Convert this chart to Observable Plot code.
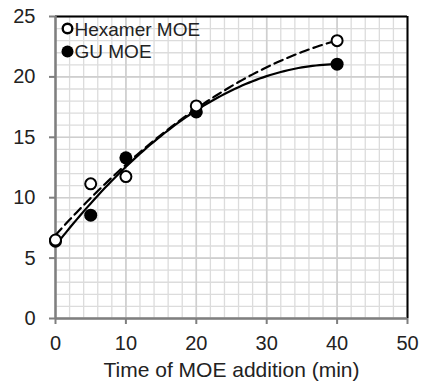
<!DOCTYPE html>
<html><head><meta charset="utf-8">
<script src="https://cdn.jsdelivr.net/npm/d3@7"></script>
<script src="https://cdn.jsdelivr.net/npm/@observablehq/plot@0.6"></script>
<style>body{margin:0;background:#fff;} #chart{font-family:"Liberation Sans",Arial,sans-serif;}</style>
</head><body><div id="chart"></div>
<script>
const times = [0, 5, 10, 20, 40];
const hexamer = [6.5, 11.15, 11.75, 17.6, 23.0];
const gu = [6.4, 8.55, 13.3, 17.1, 21.05];
const xTicks = [0, 10, 20, 30, 40, 50];
const yTicks = [0, 5, 10, 15, 20, 25];
const seriesNames = ["Hexamer MOE", "GU MOE"];

// quadratic least-squares trendline (as in the spreadsheet's polynomial trendline)
function quadFit(xs, ys) {
  const S = k => d3.sum(xs, x => x ** k);
  const T = k => d3.sum(xs, (x, i) => x ** k * ys[i]);
  const A = [[S(0), S(1), S(2)], [S(1), S(2), S(3)], [S(2), S(3), S(4)]];
  const b = [T(0), T(1), T(2)];
  for (let i = 0; i < 3; i++) {
    for (let j = i + 1; j < 3; j++) {
      const f = A[j][i] / A[i][i];
      for (let k = i; k < 3; k++) A[j][k] -= f * A[i][k];
      b[j] -= f * b[i];
    }
  }
  const c = [0, 0, 0];
  for (let i = 2; i >= 0; i--) {
    let s = b[i];
    for (let k = i + 1; k < 3; k++) s -= A[i][k] * c[k];
    c[i] = s / A[i][i];
  }
  return x => c[0] + c[1] * x + c[2] * x * x;
}
const fh = quadFit(times, hexamer), fg = quadFit(times, gu);
const xs = d3.range(0, 40.001, 0.5);
const hexFit = xs.map(x => ({x, y: fh(x)}));
const guFit = xs.map(x => ({x, y: fg(x)}));
const hexPts = times.map((t, i) => ({x: t, y: hexamer[i]}));
const guPts = times.map((t, i) => ({x: t, y: gu[i]}));

const minorX = d3.range(0, 51, 2);
const minorY = d3.range(0, 26, 1);
const one = [{}];

const chart = Plot.plot({
  width: 423, height: 387,
  marginLeft: 55, marginRight: 16, marginTop: 16, marginBottom: 69,
  style: {fontFamily: '"Liberation Sans", Arial, sans-serif', background: "#fff"},
  x: {domain: [0, 50]},
  y: {domain: [0, 25]},
  marks: [
    Plot.ruleX(minorX, {stroke: "#dcdcdc", strokeWidth: 1.3}),
    Plot.ruleY(minorY, {stroke: "#dcdcdc", strokeWidth: 1.3}),
    Plot.ruleX(xTicks, {stroke: "#cfcfcf", strokeWidth: 1.6}),
    Plot.ruleY(yTicks, {stroke: "#cfcfcf", strokeWidth: 1.6}),
    Plot.ruleY([25], {stroke: "#000", strokeWidth: 2}),
    Plot.ruleX([50], {stroke: "#000", strokeWidth: 2}),
    Plot.ruleX([0], {stroke: "#7f7f7f", strokeWidth: 2.5}),
    Plot.ruleY([0], {stroke: "#7f7f7f", strokeWidth: 2.5}),
    Plot.axisX({ticks: xTicks, tickSize: 6, tickPadding: 11, fontSize: 20, stroke: "#7f7f7f", strokeWidth: 2, fill: "#222", label: "Time of MOE addition (min)", labelAnchor: "center", labelArrow: "none", labelOffset: 58}),
    Plot.axisY({ticks: yTicks, tickSize: 6, tickPadding: 14, fontSize: 20, stroke: "#7f7f7f", strokeWidth: 2, fill: "#222", label: null}),
    Plot.line(hexFit, {x: "x", y: "y", stroke: "#000", strokeWidth: 2.2, strokeDasharray: "9,5"}),
    Plot.line(guFit, {x: "x", y: "y", stroke: "#000", strokeWidth: 2.2}),
    Plot.dot(guPts, {x: "x", y: "y", r: 6.5, fill: "#000", stroke: "none"}),
    Plot.dot(hexPts, {x: "x", y: "y", r: 5.5, fill: "#fff", stroke: "#000", strokeWidth: 2}),
    // legend
    Plot.dot(one, {frameAnchor: "top-left", dx: 12, dy: 12, r: 4.8, fill: "#fff", stroke: "#000", strokeWidth: 2.4}),
    Plot.dot(one, {frameAnchor: "top-left", dx: 12, dy: 35, r: 6, fill: "#000", stroke: "none"}),
    Plot.text([seriesNames[0]], {text: d => d, frameAnchor: "top-left", dx: 19, dy: 13, textAnchor: "start", lineAnchor: "middle", fontSize: 19, fill: "#222"}),
    Plot.text([seriesNames[1]], {text: d => d, frameAnchor: "top-left", dx: 19, dy: 35, textAnchor: "start", lineAnchor: "middle", fontSize: 19, fill: "#222"})
  ]
});
chart.querySelectorAll("[aria-label='x-axis label'] text, [aria-label='x-axis label']").forEach(e => e.setAttribute("font-size", 21));
document.getElementById("chart").appendChild(chart);
</script></body></html>
